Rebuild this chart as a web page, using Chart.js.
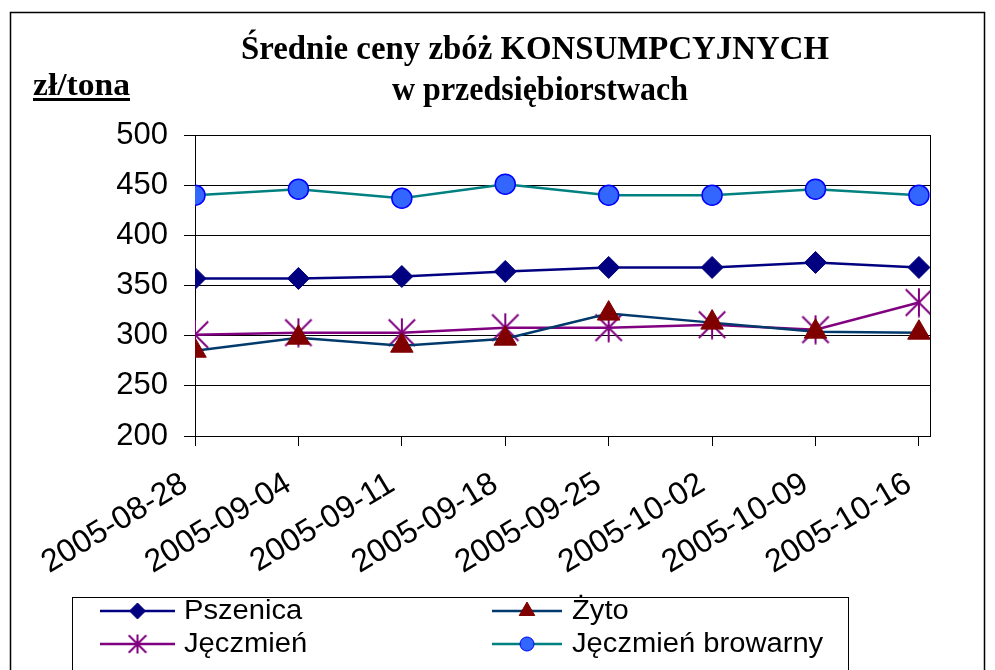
<!DOCTYPE html>
<html>
<head>
<meta charset="utf-8">
<script src="https://cdn.jsdelivr.net/npm/chart.js@4.4.1/dist/chart.umd.min.js"></script>
<style>
  body { margin: 0; background: #fff; }
  canvas { display: block; }
</style>
</head>
<body>
<canvas id="miCanva" width="995" height="670"></canvas>
<script>
const dates = ["2005-08-28", "2005-09-04", "2005-09-11", "2005-09-18",
               "2005-09-25", "2005-10-02", "2005-10-09", "2005-10-16"];
const pszenica = [357, 357, 359, 364, 368, 368, 373, 368];
const zyto = [285, 298, 290, 297, 322, 313, 304, 303];
const jeczmien = [301, 303, 303, 308, 308, 311, 306, 333];
const browarny = [440, 446, 437, 451, 440, 440, 446, 440];
const seriesNames = ["Pszenica", "Żyto", "Jęczmień", "Jęczmień browarny"];
const yTicks = [200, 250, 300, 350, 400, 450, 500];

// excel-like star: vertical bar plus an X
const makeStar = (size, color, lw) => {
  const c = document.createElement("canvas");
  c.width = size;
  c.height = size;
  const g = c.getContext("2d");
  const h = size / 2;
  g.strokeStyle = color;
  g.lineWidth = lw;
  g.beginPath();
  g.moveTo(h, 0.5); g.lineTo(h, size - 0.5);
  g.moveTo(h * 0.12, h * 0.12); g.lineTo(size - h * 0.12, size - h * 0.12);
  g.moveTo(size - h * 0.12, h * 0.12); g.lineTo(h * 0.12, size - h * 0.12);
  g.stroke();
  return c;
};
const star = makeStar(30, "#800080", 2);
const starSmall = makeStar(20, "#800080", 2);

const pts = (arr) => arr.map((v, i) => ({ x: i, y: v }));

const styles = [
  { line: "#000080", fill: "#000080", edge: "#000080", style: "rectRot", r: 11, lr: 8 },
  { line: "#003a6c", fill: "#800000", edge: "#800000", style: "triangle", r: 13, lr: 9 },
  { line: "#800080", fill: "#800080", edge: "#800080", style: star, r: 15, lr: 10, small: starSmall },
  { line: "#008080", fill: "#3366ff", edge: "#0000ff", style: "circle", r: 10, lr: 7 },
];
const values = [pszenica, zyto, jeczmien, browarny];

const stretchText = (ctx, text, x, y, font, width, align) => {
  ctx.save();
  ctx.font = font;
  const w = ctx.measureText(text).width;
  const sx = width / w;
  let left = x;
  if (align === "center") left = x - width / 2;
  ctx.translate(left, y);
  ctx.scale(sx, 1);
  ctx.textAlign = "left";
  ctx.fillText(text, 0, 0);
  ctx.restore();
};

const decorations = {
  id: "decorations",
  afterDraw(chart) {
    const ctx = chart.ctx;
    const a = chart.chartArea;
    ctx.save();
    // outer frame
    ctx.strokeStyle = "#000";
    ctx.lineWidth = 1.5;
    ctx.strokeRect(10.5, 12.5, 974, 700);
    // right edge of plot
    ctx.lineWidth = 1;
    ctx.beginPath();
    ctx.moveTo(Math.round(a.right) + 0.5, a.top);
    ctx.lineTo(Math.round(a.right) + 0.5, a.bottom);
    ctx.stroke();

    // titles
    ctx.fillStyle = "#000";
    ctx.textBaseline = "alphabetic";
    stretchText(ctx, "Średnie ceny zbóż KONSUMPCYJNYCH", 535, 59, "bold 33px 'Liberation Serif'", 588, "center");
    stretchText(ctx, "w przedsiębiorstwach", 540, 100, "bold 33px 'Liberation Serif'", 296, "center");
    stretchText(ctx, "zł/tona", 33, 95, "bold 32px 'Liberation Serif'", 97, "left");
    ctx.fillRect(33, 98, 97, 3);

    // legend
    ctx.strokeStyle = "#000";
    ctx.lineWidth = 1;
    ctx.strokeRect(72.5, 597.5, 776, 120);
    const slots = [
      { x0: 100, x1: 175, tx: 184, y: 611 },
      { x0: 492, x1: 562, tx: 572, y: 611 },
      { x0: 100, x1: 175, tx: 184, y: 644 },
      { x0: 492, x1: 562, tx: 572, y: 644 },
    ];
    slots.forEach((s, i) => {
      const st = styles[i];
      ctx.strokeStyle = st.line;
      ctx.lineWidth = 2.5;
      ctx.beginPath();
      ctx.moveTo(s.x0, s.y);
      ctx.lineTo(s.x1, s.y);
      ctx.stroke();
      ctx.fillStyle = st.fill;
      ctx.strokeStyle = st.edge;
      ctx.lineWidth = 1;
      Chart.helpers.drawPoint(ctx, {
        pointStyle: st.small || st.style,
        radius: st.lr,
        rotation: 0,
        borderWidth: 1,
      }, (s.x0 + s.x1) / 2, s.y);
      ctx.fillStyle = "#000";
      ctx.textBaseline = "middle";
      ctx.font = "27px 'Liberation Sans'";
      const w = ctx.measureText(seriesNames[i]).width;
      stretchText(ctx, seriesNames[i], s.tx, s.y + 1, "27px 'Liberation Sans'", w * 1.08, "left");
    });
    ctx.restore();
  },
};

const ctx = document.getElementById("miCanva").getContext("2d");
new Chart(ctx, {
  type: "line",
  data: {
    datasets: values.map((arr, i) => ({
      label: seriesNames[i],
      data: pts(arr),
      borderColor: styles[i].line,
      borderWidth: 2.5,
      backgroundColor: styles[i].fill,
      pointBackgroundColor: styles[i].fill,
      pointBorderColor: styles[i].edge,
      pointBorderWidth: i === 3 ? 1.5 : 1,
      pointStyle: styles[i].style,
      pointRadius: styles[i].r,
      pointHoverRadius: styles[i].r,
      tension: 0,
      fill: false,
    })),
  },
  options: {
    responsive: false,
    animation: false,
    layout: { padding: { top: 135, left: 0, right: 65, bottom: 0 } },
    plugins: { legend: { display: false }, tooltip: { enabled: false } },
    scales: {
      x: {
        type: "linear",
        min: 0,
        max: 7.107,
        afterBuildTicks: (s) => { s.ticks = dates.map((d, i) => ({ value: i })); },
        afterFit: (s) => { s.height = 234; },
        ticks: {
          callback: (v) => dates[v],
          autoSkip: false,
          minRotation: 31,
          maxRotation: 31,
          labelOffset: -10,
          padding: 19,
          color: "#000",
          font: { family: "'Liberation Sans'", size: 32 },
        },
        grid: { drawOnChartArea: false, color: "#000", tickLength: 10, lineWidth: 1 },
        border: { color: "#000" },
      },
      y: {
        min: 200,
        max: 500,
        afterBuildTicks: (s) => { s.ticks = yTicks.map((v) => ({ value: v })); },
        afterFit: (s) => { s.width = 195; },
        ticks: {
          padding: 16,
          color: "#000",
          font: { family: "'Liberation Sans'", size: 31 },
        },
        grid: { color: "#000", tickLength: 11, lineWidth: 1 },
        border: { color: "#000" },
      },
    },
  },
  plugins: [decorations],
});
</script>
</body>
</html>
